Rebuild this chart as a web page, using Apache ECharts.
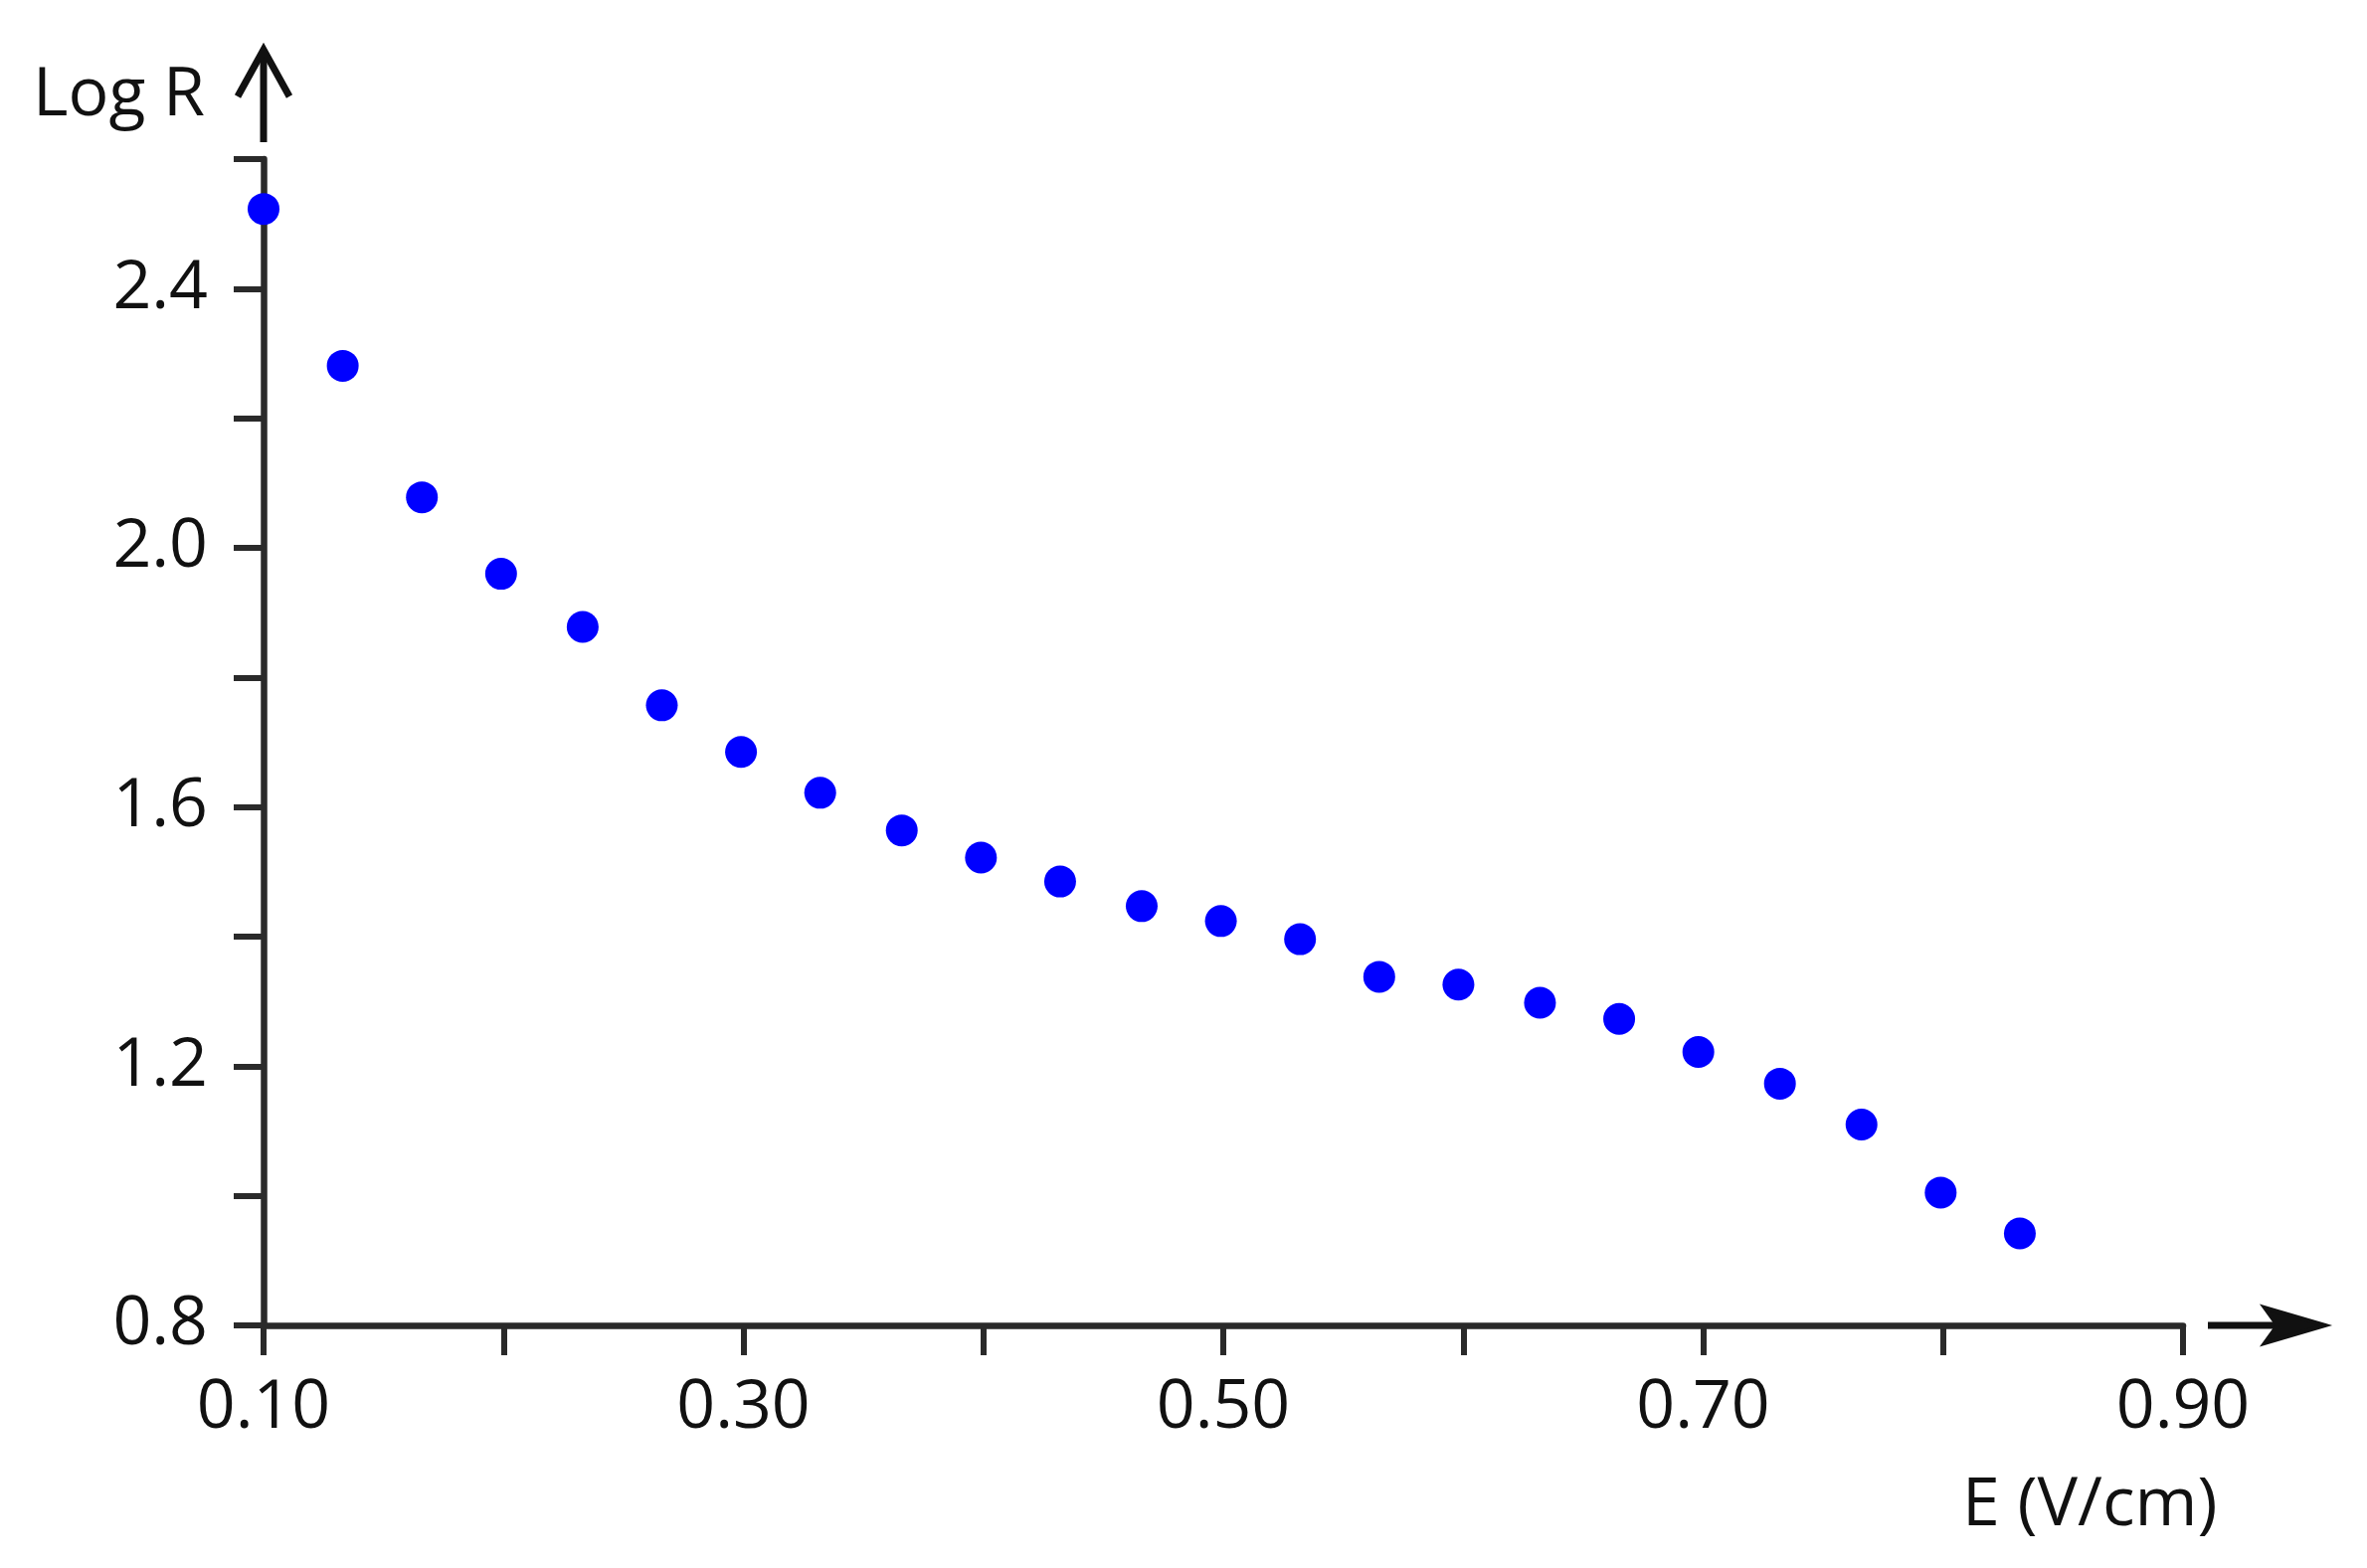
<!DOCTYPE html>
<html>
<head>
<meta charset="utf-8">
<script src="https://cdn.jsdelivr.net/npm/echarts@6/dist/echarts.min.js"></script>
<style>
  html, body { margin: 0; padding: 0; background: #ffffff; }
  #chart { width: 2380px; height: 1577px; }
</style>
</head>
<body>
<div id="chart"></div>
<script>
// E (V/cm)
const fieldE = [0.100, 0.133, 0.166, 0.199, 0.233, 0.266, 0.299, 0.332, 0.366, 0.399, 0.432, 0.466,
                0.499, 0.532, 0.565, 0.598, 0.632, 0.665, 0.698, 0.732, 0.766, 0.799, 0.832];
// Log R
const logR = [2.523, 2.281, 2.078, 1.960, 1.878, 1.757, 1.685, 1.622, 1.564, 1.522, 1.485, 1.447,
              1.424, 1.396, 1.338, 1.326, 1.298, 1.273, 1.222, 1.173, 1.110, 1.005, 0.942];
const xLabelTicks = ['0.10', '0.30', '0.50', '0.70', '0.90'];
const yLabelTicks = ['0.8', '1.2', '1.6', '2.0', '2.4'];
const xAxisName = 'E (V/cm)';
const yAxisName = 'Log R';

const points = fieldE.map((x, i) => [x, logR[i]]);
const axisColor = '#2a2a2a';
const font = '"Open Sans", "DejaVu Sans", sans-serif';

const chart = echarts.init(document.getElementById('chart'));
chart.setOption({
  backgroundColor: '#ffffff',
  animation: false,
  grid: { left: 265, right: 185, top: 160, bottom: 244, containLabel: false },
  xAxis: {
    type: 'value', min: 0.1, max: 0.9, interval: 0.1,
    splitLine: { show: false },
    axisLine: { show: true, onZero: false, lineStyle: { color: axisColor, width: 6.5 } },
    axisTick: { show: true, inside: false, length: 30, lineStyle: { color: axisColor, width: 6 } },
    axisLabel: {
      margin: 50, color: '#111', fontSize: 68, fontFamily: font,
      formatter: v => { const s = v.toFixed(2); return xLabelTicks.includes(s) ? s : ''; }
    }
  },
  yAxis: {
    type: 'value', min: 0.8, max: 2.6, interval: 0.2,
    splitLine: { show: false },
    axisLine: { show: true, onZero: false, lineStyle: { color: axisColor, width: 6.5 } },
    axisTick: { show: true, inside: false, length: 30, lineStyle: { color: axisColor, width: 6 } },
    axisLabel: {
      margin: 56, color: '#111', fontSize: 68, fontFamily: font,
      formatter: v => { const s = v.toFixed(1); return yLabelTicks.includes(s) ? s : ''; }
    }
  },
  graphic: [
    // y-axis arrow
    { type: 'line', shape: { x1: 265, y1: 143, x2: 265, y2: 52 }, style: { stroke: '#111', lineWidth: 7 } },
    { type: 'polyline', shape: { points: [[239, 97], [265, 50], [291, 97]] }, style: { stroke: '#111', lineWidth: 7, fill: null } },
    // x-axis arrow
    { type: 'line', shape: { x1: 2220, y1: 1333, x2: 2330, y2: 1333 }, style: { stroke: '#111', lineWidth: 7 } },
    { type: 'polygon', shape: { points: [[2338, 1333], [2277, 1315], [2290, 1333], [2277, 1351]] }, style: { fill: '#111', stroke: '#111', lineWidth: 4 } },
    // axis titles
    { type: 'text', left: 33, top: 63, style: { text: yAxisName, fontSize: 68, fontFamily: font, fill: '#111' } },
    { type: 'text', left: 1973, top: 1481, style: { text: xAxisName, fontSize: 68, fontFamily: font, fill: '#111' } }
  ],
  series: [{
    type: 'scatter',
    data: points,
    symbol: 'circle',
    symbolSize: 32,
    itemStyle: { color: '#0000ff', opacity: 1 }
  }]
});
</script>
</body>
</html>
